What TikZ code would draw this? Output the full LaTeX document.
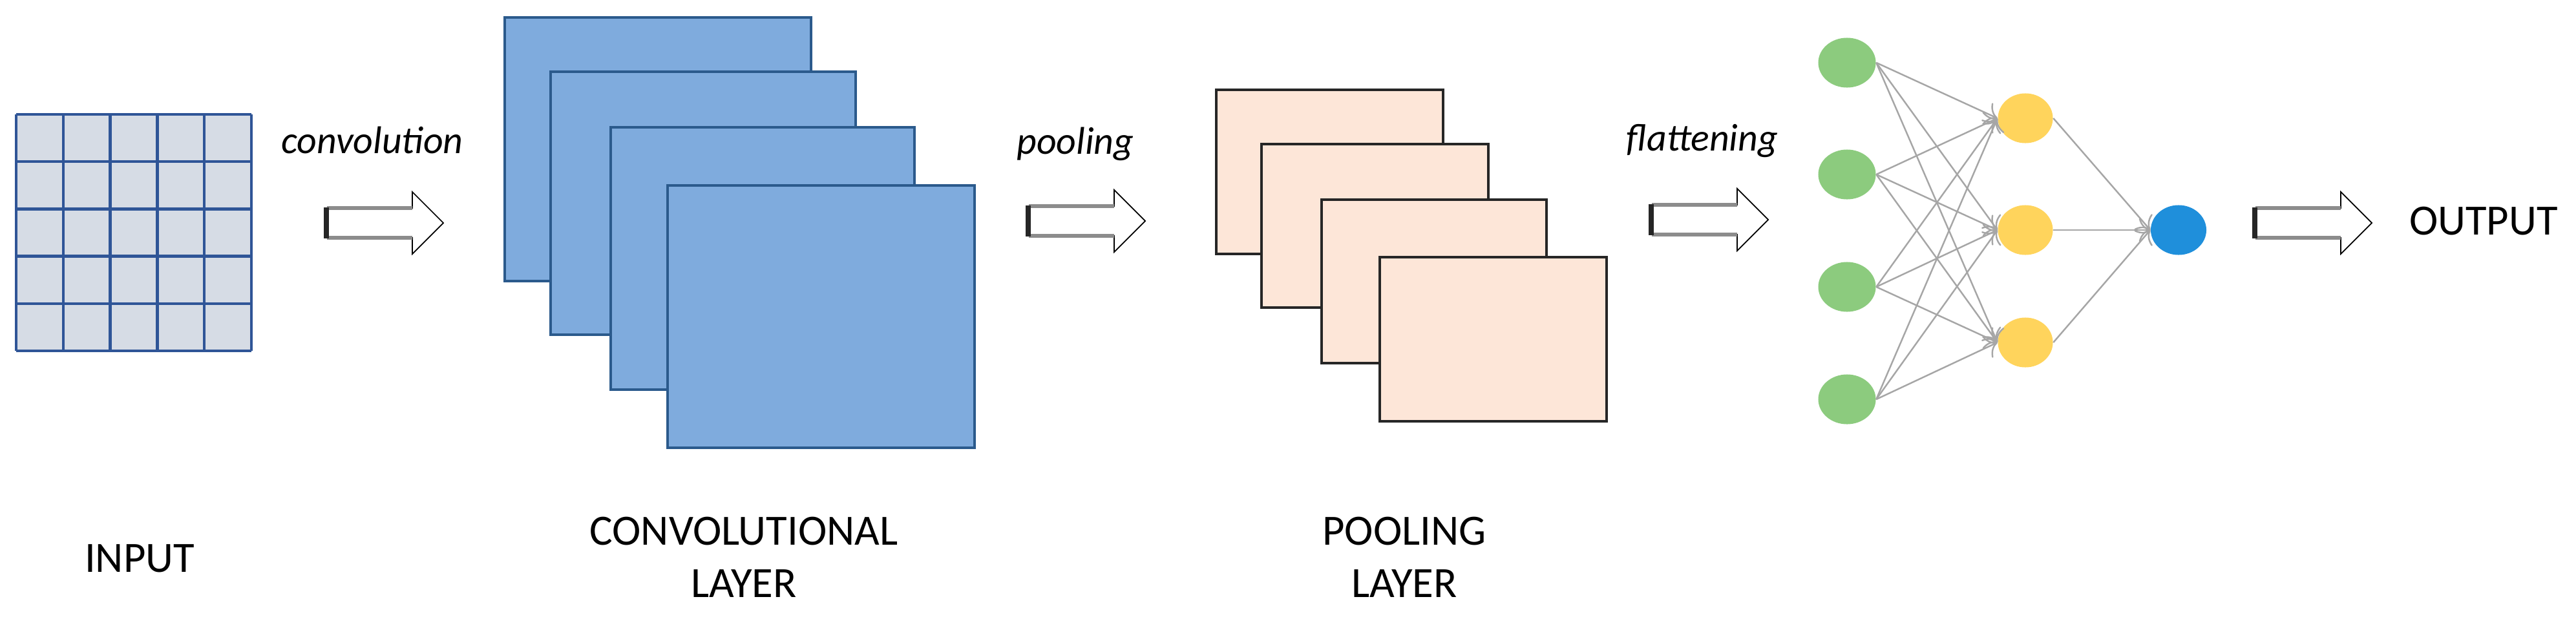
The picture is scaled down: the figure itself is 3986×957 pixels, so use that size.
\documentclass[tikz,border=0pt]{standalone}
\usepackage{fontspec}
\setmainfont{Carlito}
\usetikzlibrary{arrows.meta,shapes.geometric}
\definecolor{gridfill}{HTML}{D6DCE5}
\definecolor{gridline}{HTML}{2F5597}
\definecolor{convfill}{HTML}{7FABDD}
\definecolor{convline}{HTML}{2B5A8C}
\definecolor{poolfill}{HTML}{FDE6D8}
\definecolor{neurgreen}{HTML}{8CCB7E}
\definecolor{neuryellow}{HTML}{FFD45C}
\definecolor{neurblue}{HTML}{1F8FDB}
\tikzset{
  conv/.style={fill=convfill, draw=convline, line width=1.2pt},
  pool/.style={fill=poolfill, draw=black!85, line width=1.2pt},
  neuron/.style={ellipse, minimum width=0.89cm, minimum height=0.77cm, inner sep=0pt},
  link/.style={draw=black!35, line width=0.7pt, -{To[length=5pt]}},
  stage/.style={font=\itshape\fontsize{17}{20}\selectfont},
  title/.style={font=\fontsize{19}{23}\selectfont, align=center}
}
% block arrow with its left end at (#1,#2)
\newcommand{\flowarrow}[2]{%
  \begin{scope}[shift={(#1,#2)}]
    \draw[line width=0.5pt, fill=white] (0,-23) -- (136,-23) -- (136,-48) -- (184,0) -- (136,48) -- (136,23) -- (0,23) -- cycle;
    \draw[black!45, line width=1.6pt] (4,-23) -- (136,-23) (4,23) -- (136,23);
    \draw[black!85, line width=2.2pt] (3,-24) -- (3,24);
  \end{scope}}
\begin{document}
\begin{tikzpicture}[x=0.01cm, y=-0.01cm]
  \useasboundingbox (0,0) rectangle (3986,957);
  % Input grid.
  \fill[gridfill] (25,177) rectangle (389,543);
  \foreach \i in {0,...,5} {
    \draw[gridline, line width=1.3pt] ({25+\i*72.8},177) -- ({25+\i*72.8},543);
    \draw[gridline, line width=1.3pt] (25,{177+\i*73.2}) -- (389,{177+\i*73.2});
  }
  \node[title] (input) at (216,864) {INPUT};
  % Convolution.
  \flowarrow{502}{345}
  \node[stage] (convlabel) at (576,217) {convolution};
  \draw[conv] (781,27) rectangle (1255,435);
  \draw[conv] (852,111) rectangle (1324,518);
  \draw[conv] (945,197) rectangle (1415,603);
  \draw[conv] (1033,287) rectangle (1508,693);
  \node[title] (convtitle) at (1151,862) {CONVOLUTIONAL\\LAYER};
  % Pooling.
  \flowarrow{1588}{342}
  \node[stage] (poollabel) at (1664,223) {pooling};
  \draw[pool] (1882,139) rectangle (2233,393);
  \draw[pool] (1952,223) rectangle (2303,476);
  \draw[pool] (2045,309) rectangle (2393,562);
  \draw[pool] (2135,398) rectangle (2486,652);
  \node[title] (pooltitle) at (2173,862) {POOLING\\LAYER};
  % Flattening and the dense network.
  \flowarrow{2552}{340}
  \node[stage] (flatlabel) at (2634,218) {flattening};
  \foreach \k/\y in {1/97,2/270,3/444,4/618}
    \node[neuron, fill=neurgreen] (in\k) at (2858,\y) {};
  \foreach \k/\y in {1/183,2/356,3/530}
    \node[neuron, fill=neuryellow, minimum width=0.85cm] (hid\k) at (3134,\y) {};
  \node[neuron, fill=neurblue, minimum width=0.86cm] (out) at (3371,356) {};
  \foreach \a in {1,...,4}
    \foreach \b in {1,...,3}
      \draw[link] (in\a.east) -- (hid\b.west);
  \foreach \b in {1,...,3}
    \draw[link] (hid\b.east) -- (out.west);
  % Output.
  \flowarrow{3486}{345}
  \node[title] (output) at (3843,342) {OUTPUT};
\end{tikzpicture}
\end{document}
